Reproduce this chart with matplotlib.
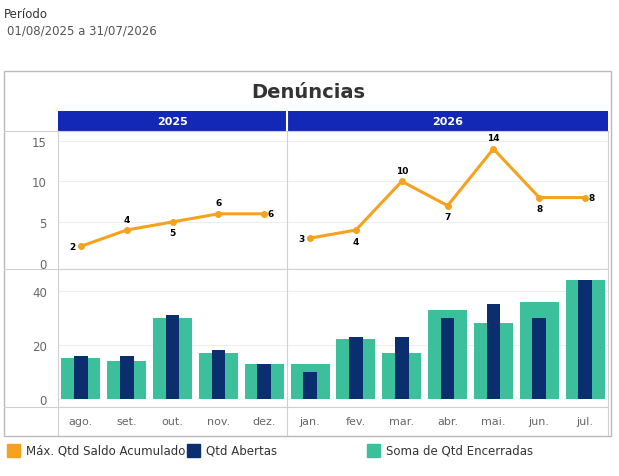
import matplotlib.pyplot as plt
from matplotlib.patches import Rectangle
import numpy as np

meses = ['ago.', 'set.', 'out.', 'nov.', 'dez.', 'jan.', 'fev.', 'mar.', 'abr.', 'mai.', 'jun.', 'jul.']
anos = ['2025', '2026']
saldo = [2, 4, 5, 6, 6, 3, 4, 10, 7, 14, 8, 8]
abertas = [16, 16, 31, 18, 13, 10, 23, 23, 30, 35, 30, 44]
encerradas = [15, 14, 30, 17, 13, 13, 22, 17, 33, 28, 36, 44]

W, H = 619, 477
fig = plt.figure(figsize=(W / 100, H / 100), dpi=100)

def box(x0, y0, x1, y1):
    return [x0 / W, 1 - y1 / H, (x1 - x0) / W, (y1 - y0) / H]

laranja = '#F5A21E'
azul = '#0B2F6E'
verde = '#3CBF9B'
cinza = '#D0D0D0'

fig.text(4 / W, 1 - 14 / H, 'Período', fontsize=8.5, color='#333333', va='center')
fig.text(7 / W, 1 - 31 / H, '01/08/2025 a 31/07/2026', fontsize=8.5, color='#555555', va='center')

# moldura
fig.patches.append(Rectangle((4 / W, 1 - 437 / H), 607 / W, 365 / H, transform=fig.transFigure,
                             fill=False, edgecolor='#BBBBBB', lw=1))
fig.text(308 / W, 1 - 92 / H, 'Denúncias', fontsize=14, fontweight='bold', color='#333333',
         ha='center', va='center')

x = np.arange(len(meses))
xl = (-0.5, 11.5)

# cabeçalho anos
axh = fig.add_axes(box(58, 112, 608, 132))
axh.set_xlim(xl)
axh.set_ylim(0, 1)
axh.add_patch(Rectangle((-0.5, 0), 5, 1, color='#1428B8'))
axh.add_patch(Rectangle((4.5, 0), 7, 1, color='#1428B8'))
axh.axvline(4.5, color='white', lw=1.5)
axh.text(2, 0.5, anos[0], color='white', ha='center', va='center', fontsize=8, fontweight='bold')
axh.text(8, 0.5, anos[1], color='white', ha='center', va='center', fontsize=8, fontweight='bold')
axh.axis('off')

# linha
ax1 = fig.add_axes(box(58, 132, 608, 270))
ax1.set_xlim(xl)
ax1.set_ylim(-0.8, 16.2)
ax1.plot(x[:5], saldo[:5], color=laranja, lw=2.2, marker='o', ms=4)
ax1.plot(x[5:], saldo[5:], color=laranja, lw=2.2, marker='o', ms=4)
acima = [False, True, False, True, True, False, False, True, False, True, False, True]
for i, v in enumerate(saldo):
    if i in (0, 5):
        ax1.text(i - 0.12, v, str(v), ha='right', va='center', fontsize=6.5, fontweight='bold')
    elif i in (4, 11):
        ax1.text(i + 0.08, v, str(v), ha='left', va='center', fontsize=6.5, fontweight='bold')
    elif acima[i]:
        ax1.text(i, v + 0.8, str(v), ha='center', va='bottom', fontsize=6.5, fontweight='bold')
    else:
        ax1.text(i, v - 0.8, str(v), ha='center', va='top', fontsize=6.5, fontweight='bold')
ax1.set_yticks([0, 5, 10, 15])
ax1.set_xticks([])
for v in [5, 10, 15]:
    ax1.axhline(v, color='#EEEEEE', lw=0.8, zorder=0)

# barras
ax2 = fig.add_axes(box(58, 270, 608, 408))
ax2.set_xlim(xl)
ax2.set_ylim(-3, 48.1)
ax2.bar(x, encerradas, width=0.85, color=verde, zorder=2)
ax2.bar(x, abertas, width=0.3, color=azul, zorder=3)
ax2.set_yticks([0, 20, 40])
ax2.set_xticks([])
for v in [20, 40]:
    ax2.axhline(v, color='#EEEEEE', lw=0.8, zorder=0)

# rótulos meses
ax3 = fig.add_axes(box(58, 408, 608, 437))
ax3.set_xlim(xl)
ax3.set_ylim(0, 1)
for i, m in enumerate(meses):
    ax3.text(i, 0.5, m, ha='center', va='center', fontsize=8, color='#666666')
ax3.set_xticks([])
ax3.set_yticks([])

for ax in (ax1, ax2, ax3):
    for s in ax.spines.values():
        s.set_color(cinza)
        s.set_linewidth(0.8)
    ax.axvline(4.5, color=cinza, lw=0.8)
    ax.tick_params(axis='y', length=0, labelsize=8.5, labelcolor='#666666', pad=8)

# linha inferior do rótulo à esquerda
fig.add_artist(plt.Line2D([4 / W, 58 / W], [1 - 408 / H] * 2, color=cinza, lw=0.8))
fig.add_artist(plt.Line2D([4 / W, 58 / W], [1 - 270 / H] * 2, color=cinza, lw=0.8))
fig.add_artist(plt.Line2D([4 / W, 58 / W], [1 - 132 / H] * 2, color=cinza, lw=0.8))

# legenda
leg = [(laranja, 'Máx. Qtd Saldo Acumulado', 7), (azul, 'Qtd Abertas', 187), (verde, 'Soma de Qtd Encerradas', 367)]
for cor, txt, px in leg:
    fig.patches.append(Rectangle((px / W, 1 - 458 / H), 13 / W, 13 / H, transform=fig.transFigure,
                                 color=cor))
    fig.text((px + 19) / W, 1 - 451.5 / H, txt, fontsize=8.5, color='#333333', va='center')

fig.savefig('out.png', dpi=100)
